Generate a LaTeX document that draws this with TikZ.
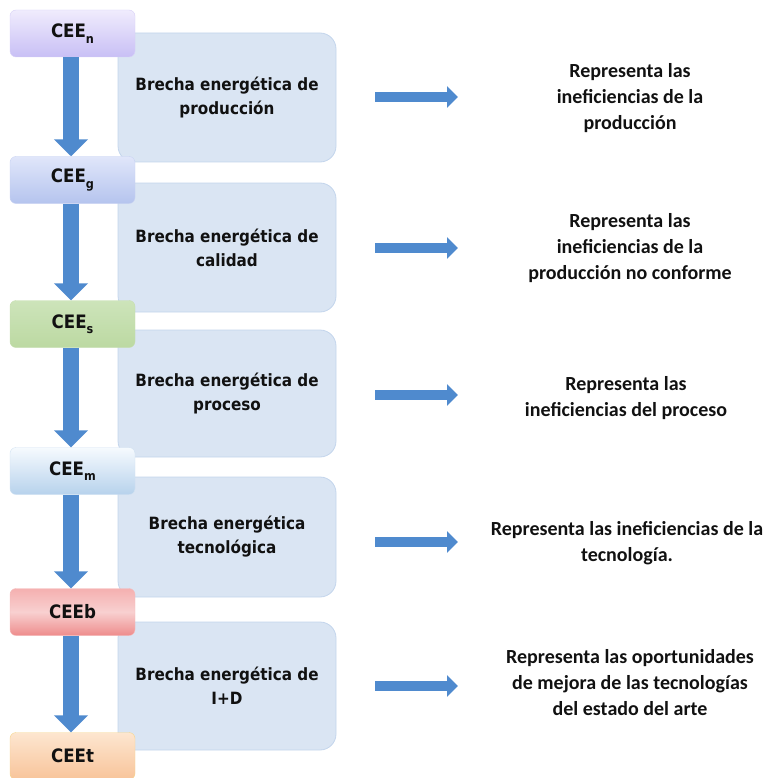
\documentclass[tikz,border=0pt]{standalone}
\usepackage{fontspec}
\usetikzlibrary{arrows.meta}
\newfontfamily\leftfont{DejaVu Sans Condensed}[BoldFont={DejaVu Sans Condensed Bold}]
\newfontfamily\rightfont{Carlito}
\definecolor{gapfill}{HTML}{DAE5F3}
\definecolor{gapline}{HTML}{C3D5EC}
\definecolor{arrowblue}{HTML}{4F8ACE}
\definecolor{ink}{HTML}{111111}
% level colours: top, bottom, border
\definecolor{nTop}{HTML}{F0ECFD}\definecolor{nBot}{HTML}{C8BFF5}\definecolor{nLine}{HTML}{D8D1F7}
\definecolor{gTop}{HTML}{E0E6FA}\definecolor{gBot}{HTML}{B5C4EE}\definecolor{gLine}{HTML}{C9D3F2}
\definecolor{sTop}{HTML}{CDE4BA}\definecolor{sBot}{HTML}{BCD9A2}\definecolor{sLine}{HTML}{C6DEB0}
\definecolor{mTop}{HTML}{F6FAFE}\definecolor{mBot}{HTML}{B7D2EC}\definecolor{mLine}{HTML}{D2E2F2}
\definecolor{bTop}{HTML}{F5B0B0}\definecolor{bMid}{HTML}{F8D0D0}\definecolor{bBot}{HTML}{EE8C8C}\definecolor{bLine}{HTML}{F4BDBD}
\definecolor{tTop}{HTML}{FDE6D0}\definecolor{tBot}{HTML}{F8C49A}\definecolor{tLine}{HTML}{F6D78E}
\newcommand{\ceelabel}[1]{CEE\raisebox{-0.3em}{\fontsize{12.5}{12.5}\selectfont #1}}
\begin{document}
\begin{tikzpicture}[x=1pt,y=-1pt,
  ceebox/.style={rounded corners=6pt, minimum width=125pt, minimum height=47pt,
    inner sep=0pt, text=ink, font=\leftfont\bfseries\fontsize{18.5}{20}\selectfont},
  gapbox/.style={rounded corners=16pt, fill=gapfill, draw=gapline, line width=0.8pt,
    minimum width=218pt, inner sep=0pt, align=center, text=ink,
    font=\leftfont\bfseries\fontsize{16.9}{24}\selectfont},
  desc/.style={align=center, text=ink, font=\rightfont\bfseries\fontsize{20}{26}\selectfont},
  downarrow/.style={draw=arrowblue, line width=16pt,
    -{Triangle[width=33pt,length=17pt]}},
  rightarrow/.style={draw=arrowblue, line width=10pt,
    -{Triangle[width=21pt,length=11pt]}}
]
\useasboundingbox (0,0) rectangle (765,778);

% gap boxes between consecutive levels
\node[gapbox, minimum height=129pt] (g1) at (227,97.5) {Brecha energética de\\producción};
\node[gapbox, minimum height=129pt] (g2) at (227,247.5) {Brecha energética de\\calidad};
\node[gapbox, minimum height=127pt] (g3) at (227,393.5) {Brecha energética de\\proceso};
\node[gapbox, minimum height=120pt] (g4) at (227,537) {Brecha energética\\tecnológica};
\node[gapbox, minimum height=128pt] (g5) at (227,686) {Brecha energética de\\I+D};

% consumption levels
\node[ceebox, top color=nTop, bottom color=nBot, draw=nLine] (n) at (72.5,33.5) {\ceelabel{n}};
\node[ceebox, top color=gTop, bottom color=gBot, draw=gLine] (g) at (72.5,180) {\ceelabel{g}};
\node[ceebox, top color=sTop, bottom color=sBot, draw=sLine] (s) at (72.5,324) {\ceelabel{s}};
\node[ceebox, top color=mTop, bottom color=mBot, draw=mLine] (m) at (72.5,471) {\ceelabel{m}};
\node[ceebox, top color=bTop, bottom color=bBot, middle color=bMid, draw=bLine] (b) at (72.5,612) {CEEb};
\node[ceebox, top color=tTop, bottom color=tBot, draw=tLine] (t) at (72.5,756) {CEEt};

% descending arrows between levels
\draw[downarrow] ([xshift=-1.5pt]n.south) -- ([xshift=-1.5pt]g.north);
\draw[downarrow] ([xshift=-1.5pt]g.south) -- ([xshift=-1.5pt]s.north);
\draw[downarrow] ([xshift=-1.5pt]s.south) -- ([xshift=-1.5pt]m.north);
\draw[downarrow] ([xshift=-1.5pt]m.south) -- ([xshift=-1.5pt]b.north);
\draw[downarrow] ([xshift=-1.5pt]b.south) -- ([xshift=-1.5pt]t.north);

% descriptions
\node[desc] (d1) at (630,98) {Representa las\\ineficiencias de la\\producción};
\node[desc] (d2) at (630,248) {Representa las\\ineficiencias de la\\producción no conforme};
\node[desc] (d3) at (626,398) {Representa las\\ineficiencias del proceso};
\node[desc] (d4) at (627,543) {Representa las ineficiencias de la\\tecnología.};
\node[desc] (d5) at (630,683) {Representa las oportunidades\\de mejora de las tecnologías\\del estado del arte};

% pointers from each gap to its description
\foreach \i/\yy in {1/97,2/248,3/395,4/542,5/686}{
  \coordinate (p\i s) at (375,\yy);
  \coordinate (p\i e) at (458,\yy);
  \draw[rightarrow] (p\i s) -- (p\i e);
}
\end{tikzpicture}
\end{document}
